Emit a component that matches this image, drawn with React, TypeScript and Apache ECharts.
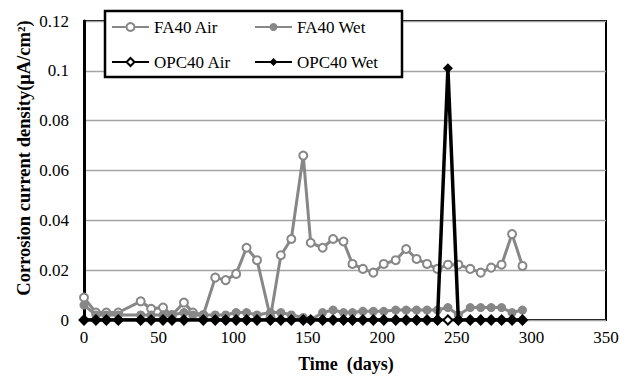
import React, { useEffect, useRef } from "react";
import * as echarts from "echarts";

// Measurement days (FA40 specimens)
const faDays = [0, 8, 15, 23, 38, 45, 53, 59, 67, 73, 80, 88, 95, 102, 109, 116, 125, 132, 139, 147, 152, 160, 167, 174, 180, 187, 194, 201, 209, 216, 223, 230, 237, 244, 251, 259, 266, 273, 280, 287, 294];
const fa40Air = [0.009, 0.003, 0.003, 0.003, 0.0075, 0.0045, 0.005, 0.002, 0.007, 0.003, 0.002, 0.017, 0.016, 0.0185, 0.029, 0.024, 0.001, 0.026, 0.0325, 0.066, 0.031, 0.029, 0.0325, 0.0315, 0.0225, 0.0205, 0.019, 0.0225, 0.024, 0.0285, 0.0245, 0.0225, 0.0205, 0.0222, 0.0222, 0.0205, 0.019, 0.021, 0.0222, 0.0345, 0.0217];
const fa40Wet = [0.006, 0.002, 0.002, 0.002, 0.002, 0.002, 0.002, 0.002, 0.003, 0.002, 0.002, 0.002, 0.002, 0.003, 0.003, 0.002, 0.003, 0.003, 0.002, 0.001, 0.0, 0.003, 0.004, 0.003, 0.003, 0.0035, 0.0035, 0.0035, 0.004, 0.004, 0.004, 0.004, 0.004, 0.005, 0.002, 0.005, 0.005, 0.005, 0.005, 0.003, 0.004];

// Measurement days (OPC40 specimens)
const opcDays = [0, 8, 15, 23, 38, 45, 53, 59, 67, 80, 88, 95, 102, 109, 116, 125, 132, 139, 147, 152, 160, 167, 174, 180, 187, 194, 201, 209, 216, 223, 230, 237, 244, 251, 259, 266, 273, 280, 287, 294];
const opc40Air = [0, 0, 0, 0, 0, 0, 0, 0, 0, 0, 0, 0, 0, 0, 0, 0, 0, 0, 0, 0, 0, 0, 0, 0, 0, 0, 0, 0, 0, 0, 0, 0, 0, 0, 0, 0, 0, 0, 0, 0];
const opc40Wet = [0, 0, 0, 0, 0, 0, 0, 0, 0, 0, 0, 0, 0, 0, 0, 0, 0, 0, 0, 0, 0, 0, 0, 0, 0, 0, 0, 0, 0, 0, 0, 0, 0.101, 0, 0, 0, 0, 0, 0, 0];

const seriesNames = ["FA40 Air", "FA40 Wet", "OPC40 Air", "OPC40 Wet"];
const xMin = 0;
const xMax = 350;
const xStep = 50;
const yMin = 0;
const yMax = 0.12;
const yStep = 0.02;
const xTitle = "Time  (days)";
const yTitle = "Corrosion current density(μA/cm²)";

const FONT = '"Liberation Serif", "Times New Roman", serif';
const GRAY = "#878787";
const BLACK = "#000000";

export default function App() {
  const ref = useRef<HTMLDivElement>(null);

  useEffect(() => {
    if (!ref.current) return;
    const chart = echarts.init(ref.current, null, { renderer: "svg" });

    const legendCommon = {
      itemWidth: 37,
      itemHeight: 10,
      itemGap: 0,
      padding: 0,
      z: 10,
      selectedMode: false,
      textStyle: { fontFamily: FONT, fontSize: 17, color: BLACK, lineHeight: 18 },
    };

    chart.setOption({
      animation: false,
      backgroundColor: "#ffffff",
      grid: {
        left: 84,
        right: 29,
        top: 21,
        bottom: 59,
        show: true,
        borderColor: BLACK,
        borderWidth: 2,
        backgroundColor: "transparent",
      },
      xAxis: {
        type: "value",
        min: xMin,
        max: xMax,
        interval: xStep,
        axisLine: { show: false },
        axisTick: { show: false },
        splitLine: { show: false },
        axisLabel: { fontFamily: FONT, fontSize: 17, color: BLACK, margin: 9 },
      },
      yAxis: {
        type: "value",
        min: yMin,
        max: yMax,
        interval: yStep,
        axisLine: { show: true, lineStyle: { color: BLACK, width: 3 } },
        axisTick: { show: false },
        splitLine: { show: true, lineStyle: { color: "#a3a3a3", width: 1.3 } },
        axisLabel: {
          fontFamily: FONT,
          fontSize: 17,
          color: BLACK,
          margin: 15,
          formatter: (v: number) => String(parseFloat(v.toFixed(4))),
        },
      },
      legend: [
        { ...legendCommon, data: [seriesNames[0]], left: 111, top: 18 },
        { ...legendCommon, data: [seriesNames[1]], left: 254, top: 18 },
        { ...legendCommon, data: [seriesNames[2]], left: 111, top: 53 },
        { ...legendCommon, data: [seriesNames[3]], left: 254, top: 53 },
      ],
      graphic: [
        {
          type: "rect",
          z: 5,
          shape: { x: 105, y: 11, width: 297, height: 66 },
          style: { fill: "#ffffff", stroke: BLACK, lineWidth: 2.5 },
        },
        {
          type: "text",
          z: 5,
          x: 24,
          y: 158,
          rotation: Math.PI / 2,
          style: {
            text: yTitle,
            fontFamily: FONT,
            fontSize: 18.5,
            fontWeight: "bold",
            fill: BLACK,
            align: "center",
            verticalAlign: "middle",
          },
        },
        {
          type: "text",
          z: 5,
          x: 346,
          y: 364,
          style: {
            text: xTitle,
            fontFamily: FONT,
            fontSize: 18,
            fontWeight: "bold",
            fill: BLACK,
            align: "center",
            verticalAlign: "middle",
          },
        },
      ],
      series: [
        {
          name: seriesNames[0],
          type: "line",
          data: faDays.map((d, i) => [d, fa40Air[i]]),
          symbol: "emptyCircle",
          symbolSize: 8,
          lineStyle: { color: GRAY, width: 3 },
          itemStyle: { color: GRAY, borderColor: GRAY, borderWidth: 2.2 },
          z: 2,
        },
        {
          name: seriesNames[1],
          type: "line",
          data: faDays.map((d, i) => [d, fa40Wet[i]]),
          symbol: "circle",
          symbolSize: 9,
          lineStyle: { color: GRAY, width: 3 },
          itemStyle: { color: GRAY },
          z: 3,
        },
        {
          name: seriesNames[2],
          type: "line",
          data: opcDays.map((d, i) => [d, opc40Air[i]]),
          symbol: "emptyDiamond",
          symbolSize: 9,
          lineStyle: { color: BLACK, width: 3 },
          itemStyle: { color: BLACK, borderColor: BLACK, borderWidth: 2 },
          z: 4,
        },
        {
          name: seriesNames[3],
          type: "line",
          data: opcDays.map((d, i) => [d, opc40Wet[i]]),
          symbol: "diamond",
          symbolSize: 10,
          lineStyle: { color: BLACK, width: 3.5 },
          itemStyle: { color: BLACK },
          z: 4,
        },
      ],
    });

    return () => chart.dispose();
  }, []);

  return <div ref={ref} style={{ width: 635, height: 379, position: "absolute", left: 0, top: 0 }} />;
}
